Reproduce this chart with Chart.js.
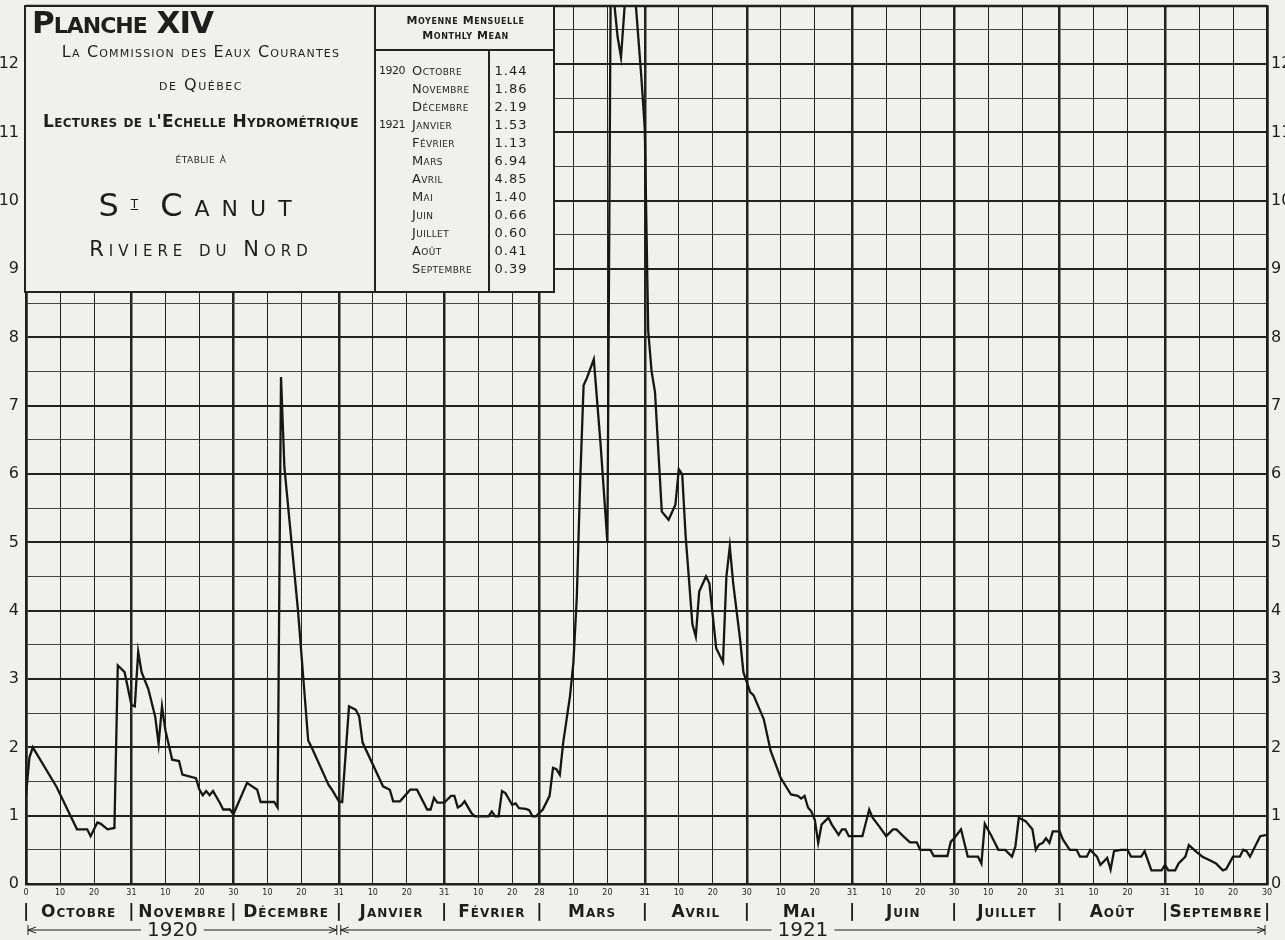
<!DOCTYPE html>
<html>
<head>
<meta charset="utf-8">
<script src="https://cdn.jsdelivr.net/npm/chart.js@4.4.1/dist/chart.umd.min.js"></script>
<style>
  body { margin: 0; background: #f0f0ee; }
  #wrap { position: relative; width: 1285px; height: 940px; }
  #plate {
    position: absolute; left: 24px; top: 5px; width: 531px; height: 288px;
    box-sizing: border-box; border: 2px solid #222; background: #f0f0ee;
    font-family: "DejaVu Sans", sans-serif; font-variant: small-caps; color: #1e1e1e;
  }
  #plate div { position: absolute; white-space: nowrap; }
  .c { left: 0; width: 350px; text-align: center; }
  #left { left: 0; top: 0; width: 350px; height: 100%; border-right: 2px solid #222; box-sizing: border-box; }
  #head { left: 350px; top: 0; width: 179px; height: 44px; border-bottom: 2px solid #222; box-sizing: border-box;
          text-align: center; font-size: 11px; font-weight: bold; line-height: 15px; padding-top: 6px; letter-spacing: 0.6px; }
  #divider { left: 462px; top: 43px; width: 0; height: 241px; border-left: 2px solid #222; }
  .yr { left: 353px; font-size: 11px; line-height: 18px; letter-spacing: -0.5px; }
  .mo { left: 386px; font-size: 13px; line-height: 18px; letter-spacing: 0.4px; }
  .val { left: 464px; width: 42px; text-align: center; font-size: 13px; line-height: 18px; letter-spacing: 1px; }
</style>
</head>
<body>
<div id="wrap">
  <canvas id="chart" width="1285" height="940"></canvas>
  <div id="plate">
    <div id="left"></div>
    <div style="left:6px; top:-2px; font-size:31px; font-weight:bold; line-height:34px; letter-spacing:-1px;">Planche XIV</div>
    <div class="c" style="top:35px; font-size:16px; line-height:20px; letter-spacing:1.2px;">La Commission des Eaux Courantes</div>
    <div class="c" style="top:68px; font-size:16px; line-height:20px; letter-spacing:1.5px;">de Québec</div>
    <div class="c" style="top:104px; font-size:17px; font-weight:bold; line-height:20px; letter-spacing:0.3px;">Lectures de l'Echelle Hydrométrique</div>
    <div class="c" style="top:143px; font-size:13px; line-height:18px; letter-spacing:0.5px;">établie à</div>
    <div class="c" style="top:181px; font-size:32px; line-height:34px; letter-spacing:12px;">S<span style="font-size:17px; text-decoration:underline; position:relative; top:-8px; letter-spacing:0;">t</span> Canut</div>
    <div class="c" style="top:230px; font-size:21px; line-height:24px; letter-spacing:5px;">Riviere du Nord</div>
    <div id="head">Moyenne Mensuelle<br>Monthly Mean</div>
    <div id="divider"></div>
    <div id="table"></div>
  </div>
</div>
<script>
// months of the 1920-21 water year
const monthNames = ['Octobre', 'Novembre', 'Décembre', 'Janvier', 'Février', 'Mars',
                    'Avril', 'Mai', 'Juin', 'Juillet', 'Août', 'Septembre'];
const monthBounds = [0, 31, 61, 92, 123, 151, 182, 212, 243, 273, 304, 335, 365];
const monthlyMean = ['1.44', '1.86', '2.19', '1.53', '1.13', '6.94',
                     '4.85', '1.40', '0.66', '0.60', '0.41', '0.39'];

// day ticks under the axis
const dayTicks = [0, 10, 20, 31, 41, 51, 61, 71, 81, 92, 102, 112, 123, 133, 143, 151,
                  161, 171, 182, 192, 202, 212, 222, 232, 243, 253, 263, 273, 283, 293, 304,
                  314, 324, 335, 345, 355, 365];
const dayTickLabels = ['0', '10', '20', '31', '10', '20', '30', '10', '20', '31', '10', '20', '31',
                       '10', '20', '28', '10', '20', '31', '10', '20', '30', '10', '20', '31',
                       '10', '20', '30', '10', '20', '31', '10', '20', '31', '10', '20', '30'];
const levelTicks = [0, 0.5, 1, 1.5, 2, 2.5, 3, 3.5, 4, 4.5, 5, 5.5, 6, 6.5, 7, 7.5, 8,
                    8.5, 9, 9.5, 10, 10.5, 11, 11.5, 12, 12.5];

// gauge readings: day from 1 Oct 1920, level in feet
const days = [
  0, 1, 2, 9, 15, 18, 19, 21, 22, 24, 26, 27, 28, 29,
  31, 32, 33, 34, 36, 38, 39, 40, 41, 43, 45, 46, 50, 51, 52, 53, 54, 55, 57, 58, 60,
  61, 65, 68, 69, 73, 74, 75, 76, 80, 83, 84, 89, 90,
  92, 93, 95, 97, 98, 99, 105, 107, 108, 110, 113, 115, 118, 119, 120, 121,
  123, 125, 126, 127, 128, 129, 131, 132, 136, 137, 138, 139, 140, 141, 143, 144, 145, 147, 148, 149, 150,
  152, 154, 155, 156, 157, 158, 160, 161, 162, 163, 164, 165, 167, 169, 171, 172, 174, 175, 177, 178, 179, 181,
  182, 183, 184, 185, 187, 189, 191, 192, 193, 194, 196, 197, 198, 200, 201, 203, 205, 206, 207, 208, 210, 211,
  213, 214, 217, 219, 222, 225, 227, 228, 229, 230, 231, 232, 233, 234, 235, 236, 237, 239, 240, 241, 242,
  246, 248, 249, 251, 253, 255, 256, 258, 260, 262, 263, 266, 267, 271, 272,
  273, 275, 276, 277, 280, 281, 282, 284, 286, 288, 290, 291, 292, 294, 296, 297, 298, 299, 300, 301, 302,
  304, 305, 307, 309, 310, 312, 313, 315, 316, 318, 319, 320, 322, 324, 325, 328, 329, 331, 334,
  335, 336, 338, 339, 341, 342, 344, 346, 348, 350, 352, 353, 355, 357, 358, 359, 360, 362, 363, 365
];
const levels = [
  1.3, 1.85, 2.0, 1.42, 0.8, 0.8, 0.7, 0.9, 0.88, 0.8, 0.82, 3.2, 3.15, 3.1,
  2.62, 2.6, 3.4, 3.1, 2.85, 2.45, 2.05, 2.6, 2.25, 1.82, 1.8, 1.6, 1.55, 1.38, 1.3, 1.36, 1.3, 1.36, 1.19, 1.09, 1.09,
  1.02, 1.48, 1.38, 1.2, 1.2, 1.12, 7.42, 6.1, 4.0, 2.1, 2.0, 1.45, 1.38,
  1.21, 1.2, 2.6, 2.55, 2.45, 2.07, 1.43, 1.38, 1.21, 1.21, 1.38, 1.38, 1.09, 1.09, 1.26, 1.19,
  1.19, 1.29, 1.29, 1.12, 1.15, 1.21, 1.04, 0.99, 0.99, 1.06, 0.99, 0.99, 1.36, 1.33, 1.16, 1.18, 1.11, 1.1, 1.08, 0.99, 0.99,
  1.09, 1.29, 1.7, 1.68, 1.6, 2.07, 2.75, 3.24, 4.2, 5.9, 7.3, 7.41, 7.68, 6.43, 5.0, 13.4, 12.4, 12.1, 13.5, 13.5, 13.1, 11.8,
  11.05, 8.1, 7.5, 7.2, 5.45, 5.33, 5.55, 6.07, 6.0, 5.1, 3.8, 3.62, 4.28, 4.5, 4.4, 3.45, 3.25, 4.5, 4.94, 4.4, 3.59, 3.1,
  2.81, 2.76, 2.41, 1.95, 1.55, 1.31, 1.29, 1.25, 1.29, 1.12, 1.06, 0.94, 0.6, 0.87, 0.92, 0.97, 0.87, 0.72, 0.8, 0.8, 0.7,
  0.7, 1.09, 0.97, 0.84, 0.7, 0.8, 0.8, 0.7, 0.61, 0.61, 0.5, 0.5, 0.41, 0.41, 0.62,
  0.67, 0.8, 0.6, 0.4, 0.4, 0.3, 0.88, 0.7, 0.5, 0.5, 0.4, 0.55, 0.97, 0.92, 0.8, 0.5, 0.58, 0.6, 0.67, 0.6, 0.77,
  0.77, 0.65, 0.5, 0.5, 0.4, 0.4, 0.5, 0.4, 0.28, 0.38, 0.21, 0.48, 0.5, 0.5, 0.4, 0.4, 0.48, 0.2, 0.2,
  0.28, 0.2, 0.2, 0.3, 0.4, 0.57, 0.48, 0.4, 0.35, 0.3, 0.2, 0.22, 0.4, 0.4, 0.5, 0.48, 0.4, 0.6, 0.7, 0.72
];

// monthly mean table in the title plate
const table = document.getElementById('table');
monthNames.forEach(function (m, i) {
  const top = 55 + i * 18;
  if (i === 0 || i === 3) {
    table.insertAdjacentHTML('beforeend', '<div class="yr" style="top:' + top + 'px">' + (i === 0 ? '1920' : '1921') + '</div>');
  }
  table.insertAdjacentHTML('beforeend', '<div class="mo" style="top:' + top + 'px">' + m + '</div>');
  table.insertAdjacentHTML('beforeend', '<div class="val" style="top:' + top + 'px">' + monthlyMean[i] + '</div>');
});

const ink = '#1e1e1e';

const plateText = {
  id: 'plateText',
  afterDraw(chart) {
    const ctx = chart.ctx;
    const x = chart.scales.x;
    const area = chart.chartArea;
    ctx.save();
    // top border of the grid
    ctx.strokeStyle = ink;
    ctx.lineWidth = 2.5;
    ctx.beginPath();
    ctx.moveTo(area.left, area.top);
    ctx.lineTo(area.right, area.top);
    ctx.stroke();

    // month names
    ctx.fillStyle = ink;
    ctx.textAlign = 'center';
    ctx.textBaseline = 'middle';
    ctx.font = 'small-caps bold 17px "DejaVu Sans"';
    ctx.letterSpacing = '1px';
    monthNames.forEach(function (m, i) {
      ctx.fillText(m, x.getPixelForValue((monthBounds[i] + monthBounds[i + 1]) / 2), 913);
    });
    ctx.letterSpacing = '0px';
    monthBounds.forEach(function (b) {
      ctx.fillText('|', x.getPixelForValue(b), 913);
    });

    // year arrows
    const years = [['1920', 0, 92], ['1921', 92, 365]];
    ctx.font = '20px "DejaVu Sans"';
    ctx.lineWidth = 1;
    years.forEach(function (y) {
      const a = x.getPixelForValue(y[1]) + 2;
      const b = x.getPixelForValue(y[2]) - 2;
      const mid = (a + b) / 2 - (y[0] === '1920' ? 10 : 0);
      const half = ctx.measureText(y[0]).width / 2 + 6;
      const yy = 930;
      ctx.fillText(y[0], mid, yy + 1);
      ctx.beginPath();
      ctx.moveTo(a, yy); ctx.lineTo(mid - half, yy);
      ctx.moveTo(mid + half, yy); ctx.lineTo(b, yy);
      ctx.moveTo(a, yy - 5); ctx.lineTo(a, yy + 5);
      ctx.moveTo(b, yy - 5); ctx.lineTo(b, yy + 5);
      ctx.moveTo(a, yy); ctx.lineTo(a + 8, yy - 3);
      ctx.moveTo(a, yy); ctx.lineTo(a + 8, yy + 3);
      ctx.moveTo(b, yy); ctx.lineTo(b - 8, yy - 3);
      ctx.moveTo(b, yy); ctx.lineTo(b - 8, yy + 3);
      ctx.stroke();
    });
    ctx.restore();
  }
};

function levelAxis(position) {
  return {
    type: 'linear',
    position: position,
    min: 0,
    max: 12.85,
    afterBuildTicks: function (scale) {
      scale.ticks = levelTicks.map(function (v) { return { value: v }; });
    },
    afterFit: function (scale) {
      scale.width = position === 'left' ? 26 : 18;
      scale.paddingTop = 0;
      scale.paddingBottom = 0;
    },
    ticks: {
      color: ink,
      padding: position === 'left' ? 7 : 4,
      font: { family: '"DejaVu Sans"', size: 16 },
      callback: function (v) { return Number.isInteger(v) ? v : ''; }
    },
    grid: {
      display: position === 'left',
      drawTicks: false,
      color: function (c) { return Number.isInteger(c.tick.value) ? '#222' : '#444'; },
      lineWidth: function (c) { return Number.isInteger(c.tick.value) ? 2 : 1; }
    },
    border: { display: true, color: ink, width: 2.5 }
  };
}

new Chart(document.getElementById('chart'), {
  type: 'line',
  data: {
    datasets: [{
      label: 'St Canut',
      data: days.map(function (d, i) { return { x: d, y: levels[i] }; }),
      borderColor: '#161616',
      borderWidth: 2.3,
      pointRadius: 0,
      tension: 0
    }]
  },
  options: {
    responsive: false,
    animation: false,
    layout: { padding: { top: 6, bottom: 36, left: 0, right: 0 } },
    plugins: { legend: { display: false }, tooltip: { enabled: false } },
    scales: {
      x: {
        type: 'linear',
        min: 0,
        max: 365,
        afterBuildTicks: function (scale) {
          scale.ticks = dayTicks.map(function (v) { return { value: v }; });
        },
        afterFit: function (scale) {
          scale.height = 20;
          scale.paddingLeft = 0;
          scale.paddingRight = 0;
        },
        ticks: {
          autoSkip: false,
          maxRotation: 0,
          padding: 4,
          color: ink,
          font: { family: '"DejaVu Sans"', size: 8 },
          callback: function (v, i) { return dayTickLabels[i]; }
        },
        grid: {
          drawTicks: false,
          color: '#222',
          lineWidth: function (c) { return monthBounds.includes(c.tick.value) ? 2.5 : 1; }
        },
        border: { display: true, color: ink, width: 2.5 }
      },
      y: levelAxis('left'),
      y2: levelAxis('right')
    }
  },
  plugins: [plateText]
});
</script>
</body>
</html>
